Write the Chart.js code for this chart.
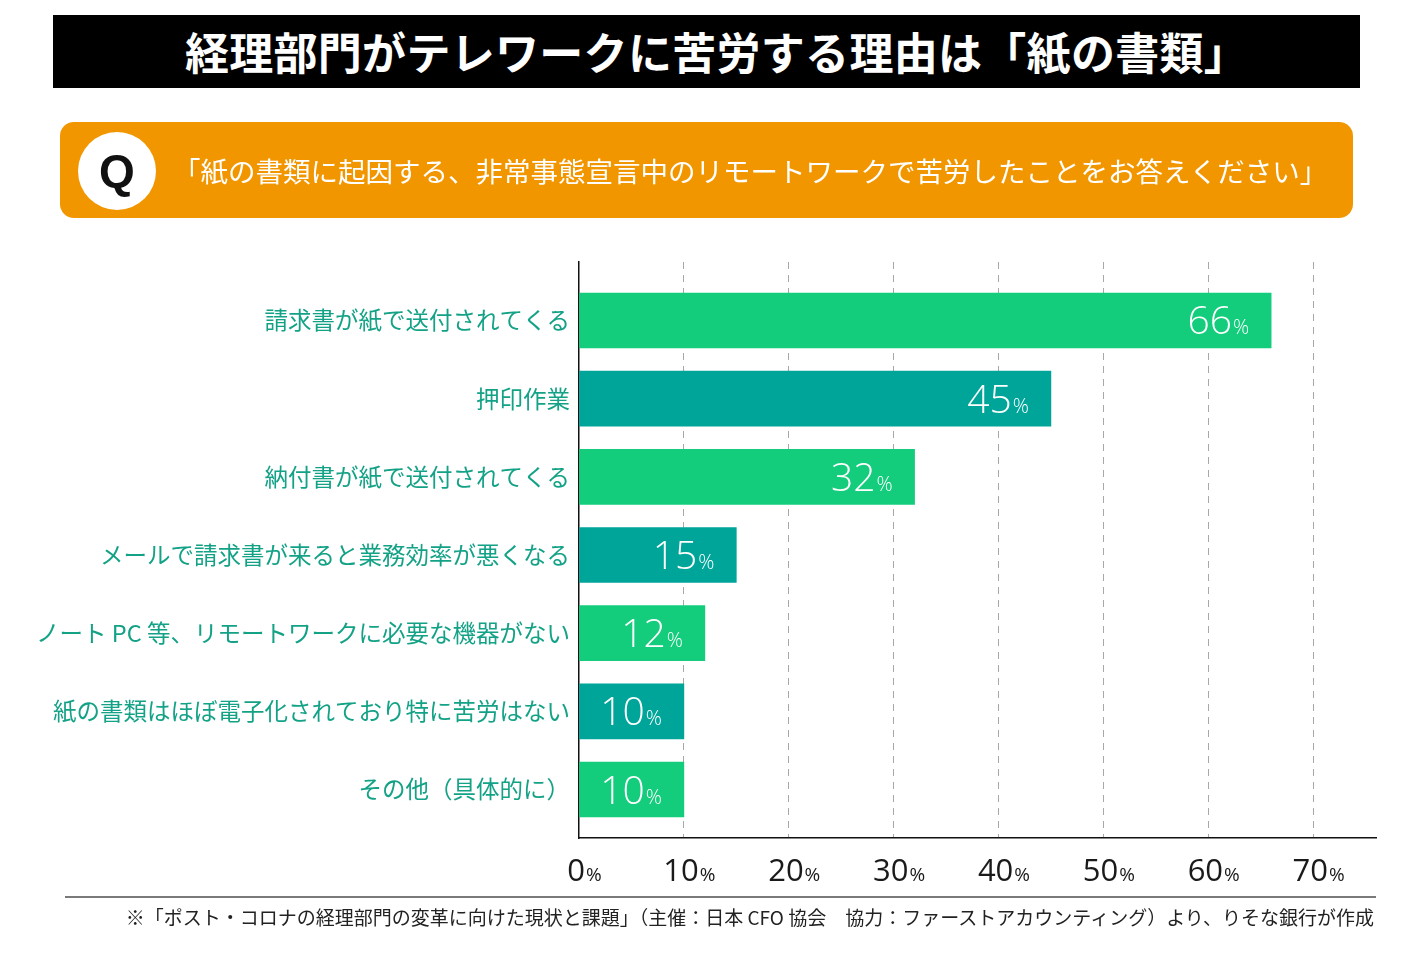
<!DOCTYPE html>
<html lang="ja">
<head>
<meta charset="utf-8">
<title>経理部門がテレワークに苦労する理由</title>
<script src="https://cdn.jsdelivr.net/npm/chart.js@4.4.1/dist/chart.umd.min.js"></script>
<style>
  body { margin: 0; background: #fff; font-family: "Noto Sans CJK JP", sans-serif; }
  #page { position: relative; width: 1414px; height: 968px; overflow: hidden; }
  #title {
    position: absolute; left: 53px; top: 15px; width: 1287px; height: 73px; padding-left: 20px;
    background: #000; color: #fff; font-weight: bold; font-size: 44px;
    line-height: 73px; text-align: center; letter-spacing: 0.3px;
  }
  #qbox {
    position: absolute; left: 60px; top: 122px; width: 1293px; height: 96px;
    background: #f29600; border-radius: 14px;
  }
  #qmark {
    position: absolute; left: 18px; top: 10px; width: 78px; height: 78px;
    border-radius: 50%; background: #fff; color: #111; font-family: "Liberation Sans", Arial, sans-serif;
    font-weight: bold; font-size: 46px; line-height: 78px; text-align: center;
  }
  #qtext {
    position: absolute; left: 113px; top: 0; height: 96px; line-height: 96px;
    color: #fff; font-size: 27.5px; white-space: nowrap;
  }
  #wrap { position: absolute; left: 0; top: 0; width: 1414px; height: 968px; }
  #rule { position: absolute; left: 65px; top: 896px; width: 1311px; height: 2px; background: #7a7a7a; }
  #source {
    position: absolute; right: 40px; top: 903px; font-size: 19px; color: #222; white-space: nowrap;
  }
</style>
</head>
<body>
<div id="page">
  <div id="wrap"><canvas id="chart"></canvas></div>
  <div id="title">経理部門がテレワークに苦労する理由は「紙の書類」</div>
  <div id="qbox">
    <div id="qmark">Q</div>
    <div id="qtext">「紙の書類に起因する、非常事態宣言中のリモートワークで苦労したことをお答えください」</div>
  </div>
  <div id="rule"></div>
  <div id="source">※「ポスト・コロナの経理部門の変革に向けた現状と課題」（主催：日本 CFO 協会　協力：ファーストアカウンティング）より、りそな銀行が作成</div>
</div>
<script>
const categories = [
  '請求書が紙で送付されてくる',
  '押印作業',
  '納付書が紙で送付されてくる',
  'メールで請求書が来ると業務効率が悪くなる',
  'ノート PC 等、リモートワークに必要な機器がない',
  '紙の書類はほぼ電子化されており特に苦労はない',
  'その他（具体的に）'
];
const values = [66, 45, 32, 15, 12, 10, 10];
const xTicks = [0, 10, 20, 30, 40, 50, 60, 70];
const barColors = ['#13cc7c', '#00a59a', '#13cc7c', '#00a59a', '#13cc7c', '#00a59a', '#13cc7c'];

// number big, "%" small
function drawPct(ctx, num, x, y, bigFont, smallFont, align) {
  ctx.font = bigFont;
  const w1 = ctx.measureText(num).width;
  ctx.font = smallFont;
  const w2 = ctx.measureText('%').width;
  let left = align === 'right' ? x - w1 - w2 : x - (w1 + w2) / 2;
  ctx.textAlign = 'left';
  ctx.textBaseline = 'alphabetic';
  ctx.font = bigFont;
  ctx.fillText(num, left, y);
  ctx.font = smallFont;
  ctx.fillText('%', left + w1 + 1, y);
}

const pctLabels = {
  id: 'pctLabels',
  afterDraw(chart) {
    const ctx = chart.ctx;
    const xs = chart.scales.x;
    ctx.save();
    // axis tick labels
    ctx.fillStyle = '#1a1a1a';
    xTicks.forEach(t => {
      drawPct(ctx, String(t), xs.getPixelForValue(t) + 5, 881,
        '31px "Open Sans"', '19px "Open Sans"', 'center');
    });
    // value labels inside bars
    ctx.fillStyle = '#fff';
    const meta = chart.getDatasetMeta(0);
    meta.data.forEach((bar, i) => {
      drawPct(ctx, String(values[i]), bar.x - 23, bar.y + 14,
        '300 39px "Open Sans"', '300 20px "Open Sans"', 'right');
    });
    ctx.restore();
  }
};

new Chart(document.getElementById('chart'), {
  type: 'bar',
  data: {
    datasets: [{
      data: values.map((v, i) => ({ x: v, y: i })),
      backgroundColor: barColors,
      barThickness: 55
    }]
  },
  options: {
    indexAxis: 'y',
    responsive: true,
    maintainAspectRatio: false,
    animation: false,
    layout: { padding: { top: 262, right: 38, bottom: 130, left: 0 } },
    plugins: { legend: { display: false }, tooltip: { enabled: false } },
    scales: {
      x: {
        type: 'linear',
        min: 0,
        max: 76,
        ticks: { display: false, stepSize: 10 },
        grid: {
          drawTicks: false,
          lineWidth: 1,
          color: c => (c.tick && c.tick.value > 0 && c.tick.value % 10 === 0) ? '#a8a8a8' : 'rgba(0,0,0,0)'
        },
        border: { display: true, color: '#111', width: 1.5, dash: [7, 6] },
        afterFit: s => { s.height = 0; }
      },
      y: {
        type: 'linear',
        reverse: true,
        offset: false,
        min: -0.748,
        max: 6.62,
        grid: { display: false, offset: false },
        border: { display: true, color: '#111', width: 1.5 },
        ticks: {
          stepSize: 1,
          autoSkip: false,
          padding: 1,
          color: '#14a287',
          font: { family: '"Noto Sans CJK JP"', size: 23.5 },
          callback: v => Number.isInteger(v) && categories[v] !== undefined ? categories[v] : ''
        },
        afterFit: s => { s.width = 579; }
      }
    }
  },
  plugins: [pctLabels]
});
</script>
</body>
</html>
